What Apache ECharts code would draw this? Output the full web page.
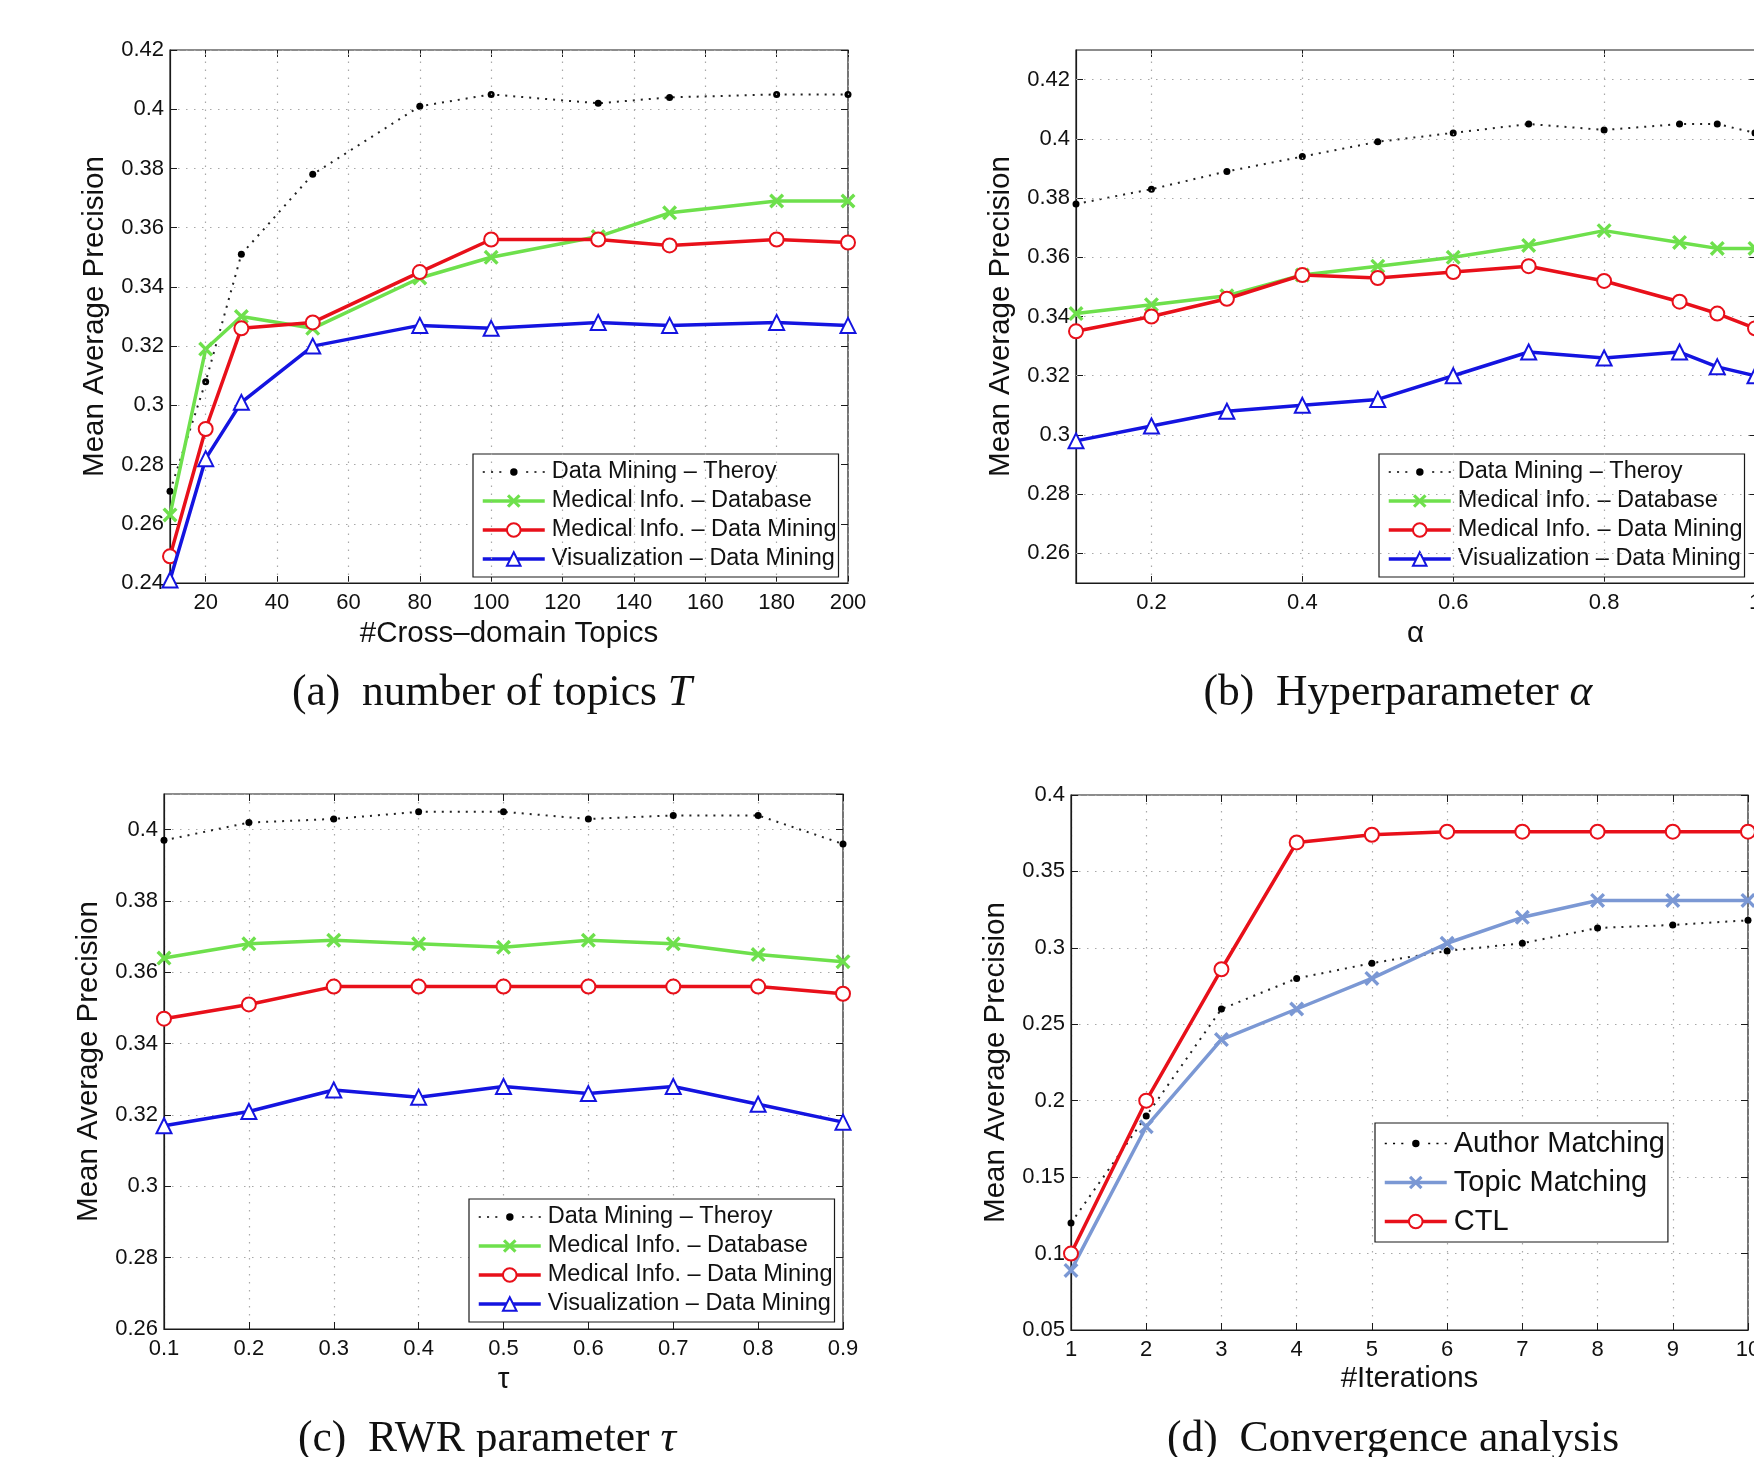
<!DOCTYPE html>
<html>
<head>
<meta charset="utf-8">
<style>
	html,body{margin:0;padding:0;background:#fff}
	#main{width:1754px;height:1457px}
</style>
<script src="https://cdn.jsdelivr.net/npm/echarts@6/dist/echarts.min.js"></script>
</head>
<body>
<div id="main"></div>
<script>
// (a) number of topics
var topicsX = [10, 20, 30, 50, 80, 100, 130, 150, 180, 200];
var topicsTheory = [0.271, 0.308, 0.351, 0.378, 0.401, 0.405, 0.402, 0.404, 0.405, 0.405];
var topicsDatabase = [0.263, 0.319, 0.330, 0.326, 0.343, 0.350, 0.357, 0.365, 0.369, 0.369];
var topicsMining = [0.249, 0.292, 0.326, 0.328, 0.345, 0.356, 0.356, 0.354, 0.356, 0.355];
var topicsVis = [0.241, 0.282, 0.301, 0.320, 0.327, 0.326, 0.328, 0.327, 0.328, 0.327];
var topicsTicks = [20, 40, 60, 80, 100, 120, 140, 160, 180, 200];

// (b) hyperparameter alpha
var alphaX = [0.1, 0.2, 0.3, 0.4, 0.5, 0.6, 0.7, 0.8, 0.9, 0.95, 1.0];
var alphaTheory = [0.378, 0.383, 0.389, 0.394, 0.399, 0.402, 0.405, 0.403, 0.405, 0.405, 0.402];
var alphaDatabase = [0.341, 0.344, 0.347, 0.354, 0.357, 0.360, 0.364, 0.369, 0.365, 0.363, 0.363];
var alphaMining = [0.335, 0.340, 0.346, 0.354, 0.353, 0.355, 0.357, 0.352, 0.345, 0.341, 0.336];
var alphaVis = [0.298, 0.303, 0.308, 0.310, 0.312, 0.320, 0.328, 0.326, 0.328, 0.323, 0.320];
var alphaTicks = [0.2, 0.4, 0.6, 0.8, 1];
var alphaYTicks = [0.26, 0.28, 0.30, 0.32, 0.34, 0.36, 0.38, 0.40, 0.42];

// (c) RWR parameter tau
var tauX = [0.1, 0.2, 0.3, 0.4, 0.5, 0.6, 0.7, 0.8, 0.9];
var tauTheory = [0.397, 0.402, 0.403, 0.405, 0.405, 0.403, 0.404, 0.404, 0.396];
var tauDatabase = [0.364, 0.368, 0.369, 0.368, 0.367, 0.369, 0.368, 0.365, 0.363];
var tauMining = [0.347, 0.351, 0.356, 0.356, 0.356, 0.356, 0.356, 0.356, 0.354];
var tauVis = [0.317, 0.321, 0.327, 0.325, 0.328, 0.326, 0.328, 0.323, 0.318];

// (d) convergence
var iterX = [1, 2, 3, 4, 5, 6, 7, 8, 9, 10];
var iterAuthor = [0.120, 0.190, 0.260, 0.280, 0.290, 0.298, 0.303, 0.313, 0.315, 0.318];
var iterTopic = [0.089, 0.183, 0.240, 0.260, 0.280, 0.303, 0.320, 0.331, 0.331, 0.331];
var iterCTL = [0.100, 0.200, 0.286, 0.369, 0.374, 0.376, 0.376, 0.376, 0.376, 0.376];

var nTheory = 'Data Mining – Theroy';
var nDatabase = 'Medical Info. – Database';
var nMining = 'Medical Info. – Data Mining';
var nVis = 'Visualization – Data Mining';

var GREEN = '#6ee04c', RED = '#e8101a', BLUE = '#1414e0', LBLUE = '#7b98d4', INK = '#1a1a1a';
var SANS = 'Liberation Sans';
var xPath = 'path://M0,1.6L1.6,0L5,3.4L8.4,0L10,1.6L6.6,5L10,8.4L8.4,10L5,6.6L1.6,10L0,8.4L3.4,5Z';
// legend icon for the dotted line with a small dot
var dotIcon = 'path://M1,2.8h2v1.6h-2Z M9,2.8h2v1.6h-2Z M17,2.8h2v1.6h-2Z M27.5,3.6a3.6,3.6 0 1,0 7.2,0a3.6,3.6 0 1,0 -7.2,0Z M43,2.8h2v1.6h-2Z M51,2.8h2v1.6h-2Z M59,2.8h2v1.6h-2Z';

function pairs(xs, ys) {
	return xs.map(function (x, i) { return [x, ys[i]]; });
}

var gridSplit = {color: '#a8a8a8', type: [1.5, 6.5], width: 1.2};

function grid(left, top, width, height) {
	return {left: left, top: top, width: width, height: height, show: true,
		borderColor: INK, borderWidth: 1.2, backgroundColor: '#fff',
		containLabel: false, outerBoundsMode: 'none'};
}

function axis(dir, gi, o) {
	var a = {
		type: 'value', gridIndex: gi, min: o.min, max: o.max,
		name: o.name, nameLocation: 'middle', nameGap: o.nameGap,
		nameTextStyle: {fontSize: 29.5, fontFamily: SANS, color: '#111'},
		axisLine: {show: true, onZero: false, lineStyle: {color: INK, width: 1.2}},
		axisTick: {show: true, inside: true, length: 7, lineStyle: {color: INK}},
		axisLabel: {color: '#111', fontSize: 22, fontFamily: SANS, margin: dir === 'x' ? 9 : 6},
		splitLine: {show: true, lineStyle: gridSplit}
	};
	if (o.interval) a.interval = o.interval;
	if (o.ticks) {
		a.axisLabel.customValues = o.ticks;
		a.axisTick.customValues = o.ticks;
		a.splitLine.show = false;
	}
	if (o.hideMax) a.axisLabel.showMaxLabel = false;
	return a;
}

// mirror axis on the top / right edge: ticks only, like a boxed plot
function mirror(dir, gi, o) {
	var a = axis(dir, gi, o);
	a.position = dir === 'x' ? 'top' : 'right';
	a.name = '';
	a.axisLine.show = false;
	a.axisLabel.show = false;
	a.splitLine.show = false;
	return a;
}

// grid lines for axes whose ticks do not start at the axis min
function gridLines(gi, dim, values) {
	return {
		type: 'line', xAxisIndex: gi, yAxisIndex: gi, data: [], silent: true, z: 1,
		markLine: {
			silent: true, symbol: ['none', 'none'], label: {show: false}, animation: false,
			lineStyle: gridSplit, emphasis: {disabled: true},
			data: values.map(function (v) { var d = {}; d[dim] = v; return d; })
		}
	};
}

function theory(gi, name, data) {
	return {type: 'line', name: name, xAxisIndex: gi, yAxisIndex: gi, data: data, clip: false,
		symbol: 'circle', symbolSize: 7, itemStyle: {color: '#000'},
		lineStyle: {color: '#222', width: 2, type: [2, 6]}, z: 3};
}
function crossLine(gi, name, data, color) {
	return {type: 'line', name: name, xAxisIndex: gi, yAxisIndex: gi, data: data, clip: false,
		symbol: xPath, symbolSize: 15, itemStyle: {color: color},
		lineStyle: {color: color, width: 3.5}, z: 4};
}
function circleLine(gi, name, data) {
	return {type: 'line', name: name, xAxisIndex: gi, yAxisIndex: gi, data: data, clip: false,
		symbol: 'emptyCircle', symbolSize: 14, itemStyle: {color: RED, borderWidth: 2.5},
		lineStyle: {color: RED, width: 3.5}, z: 5};
}
function triLine(gi, name, data) {
	return {type: 'line', name: name, xAxisIndex: gi, yAxisIndex: gi, data: data, clip: false,
		symbol: 'emptyTriangle', symbolSize: 15, itemStyle: {color: BLUE, borderWidth: 2.5},
		lineStyle: {color: BLUE, width: 3.5}, z: 6};
}

function legend(left, top, names, fontSize, gap, pad) {
	return {
		orient: 'vertical', left: left, top: top, selectedMode: false,
		itemWidth: 62, itemHeight: 17, itemGap: gap, padding: pad,
		borderColor: INK, borderWidth: 1.2, backgroundColor: '#fff', borderRadius: 0,
		lineStyle: {width: 3.5},
		textStyle: {fontSize: fontSize, fontFamily: SANS, color: '#111', padding: [0, 0, 0, 2]},
		data: names.map(function (n, i) { return i === 0 ? {name: n, icon: dotIcon} : {name: n}; })
	};
}

function caption(x, y, text, rich) {
	return {
		type: 'text', x: x, y: y, z: 100,
		style: {text: text, align: 'center', verticalAlign: 'middle', fill: '#111',
			fontFamily: 'Liberation Serif', fontSize: 43.5, rich: rich || {}}
	};
}
var italic = {i: {fontStyle: 'italic', fontFamily: 'Liberation Serif', fontSize: 43.5, fill: '#111'}};

var axA = {x: {min: 10, max: 200, ticks: topicsTicks, name: '#Cross–domain Topics', nameGap: 36},
	y: {min: 0.24, max: 0.42, interval: 0.02, name: 'Mean Average Precision', nameGap: 60}};
var axB = {x: {min: 0.1, max: 1, ticks: alphaTicks, name: 'α', nameGap: 36},
	y: {min: 0.25, max: 0.43, ticks: alphaYTicks, name: 'Mean Average Precision', nameGap: 60}};
var axC = {x: {min: 0.1, max: 0.9, interval: 0.1, name: 'τ', nameGap: 36},
	y: {min: 0.26, max: 0.41, interval: 0.02, hideMax: true, name: 'Mean Average Precision', nameGap: 60}};
var axD = {x: {min: 1, max: 10, interval: 1, name: '#Iterations', nameGap: 34},
	y: {min: 0.05, max: 0.4, interval: 0.05, name: 'Mean Average Precision', nameGap: 60}};
var panels = [axA, axB, axC, axD];

var myChart = echarts.init(document.getElementById('main'), null, {renderer: 'canvas'});
var option = {
	animation: false,
	backgroundColor: '#fff',
	grid: [
		grid(170, 50, 678, 533),
		grid(1076, 50, 679, 533),
		grid(164, 794, 679, 535),
		grid(1071, 795, 677, 535)
	],
	xAxis: panels.map(function (p, i) { return axis('x', i, p.x); })
		.concat(panels.map(function (p, i) { return mirror('x', i, p.x); })),
	yAxis: panels.map(function (p, i) { return axis('y', i, p.y); })
		.concat(panels.map(function (p, i) { return mirror('y', i, p.y); })),
	legend: [
		legend(473, 454, [nTheory, nDatabase, nMining, nVis], 23.5, 5, [6, 2, 6, 8]),
		legend(1379, 454, [nTheory, nDatabase, nMining, nVis], 23.5, 5, [6, 2, 6, 8]),
		legend(469, 1199, [nTheory, nDatabase, nMining, nVis], 23.5, 5, [6, 2, 6, 8]),
		legend(1375, 1123, ['Author Matching', 'Topic Matching', 'CTL'], 29, 10, [6, 3, 6, 8])
	],
	series: [
		gridLines(0, 'xAxis', topicsTicks),
		theory(0, nTheory, pairs(topicsX, topicsTheory)),
		crossLine(0, nDatabase, pairs(topicsX, topicsDatabase), GREEN),
		circleLine(0, nMining, pairs(topicsX, topicsMining)),
		triLine(0, nVis, pairs(topicsX, topicsVis)),

		gridLines(1, 'xAxis', alphaTicks),
		gridLines(1, 'yAxis', alphaYTicks),
		theory(1, nTheory, pairs(alphaX, alphaTheory)),
		crossLine(1, nDatabase, pairs(alphaX, alphaDatabase), GREEN),
		circleLine(1, nMining, pairs(alphaX, alphaMining)),
		triLine(1, nVis, pairs(alphaX, alphaVis)),

		theory(2, nTheory, pairs(tauX, tauTheory)),
		crossLine(2, nDatabase, pairs(tauX, tauDatabase), GREEN),
		circleLine(2, nMining, pairs(tauX, tauMining)),
		triLine(2, nVis, pairs(tauX, tauVis)),

		theory(3, 'Author Matching', pairs(iterX, iterAuthor)),
		crossLine(3, 'Topic Matching', pairs(iterX, iterTopic), LBLUE),
		circleLine(3, 'CTL', pairs(iterX, iterCTL))
	],
	graphic: [
		caption(492, 694, '(a)  number of topics {i|T}', italic),
		caption(1398, 694, '(b)  Hyperparameter {i|α}', italic),
		caption(487, 1440, '(c)  RWR parameter {i|τ}', italic),
		caption(1393, 1440, '(d)  Convergence analysis')
	]
};
myChart.setOption(option);
</script>
</body>
</html>
